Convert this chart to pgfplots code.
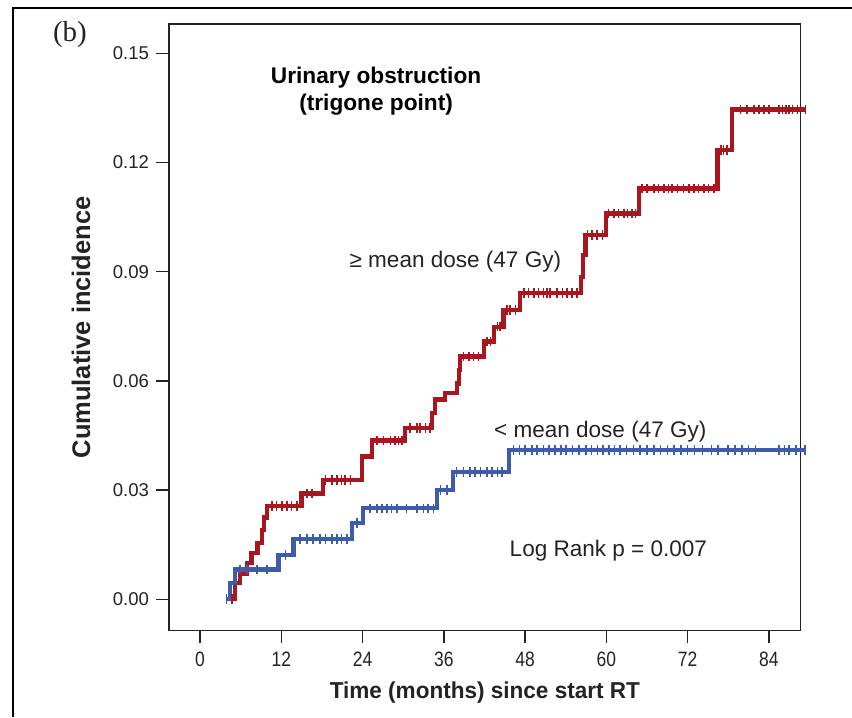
\documentclass[border=0pt]{standalone}
\usepackage{fontspec}
\setmainfont{Liberation Sans}
\newfontfamily\panelfont{Liberation Serif}
\usepackage{graphicx}
\usepackage{pgfplots}
\pgfplotsset{compat=1.18}
\definecolor{kmred}{RGB}{170,22,30}
\definecolor{kmblue}{RGB}{62,92,172}
\definecolor{ink}{RGB}{35,35,35}

\begin{document}
\begin{tikzpicture}
\useasboundingbox (-126.75pt,-64.73pt) rectangle (512.25pt,473.03pt);
% cropped figure frame (top and left edges)
\draw[line width=1.6pt, black] (-117pt,-64.73pt) -- (-117pt,467.03pt) -- (512.25pt,467.03pt);
\begin{axis}[
  at={(0pt,0pt)}, anchor=south west,
  scale only axis, width=473.8pt, height=455pt,
  xmin=-4.58, xmax=88.7, ymin=-0.00863, ymax=0.15805,
  clip=false,
  axis line style={ink, line width=1.1pt},
  tick pos=left, tick align=outside, major tick length=9.5pt,
  tick style={ink, line width=1.1pt},
  xtick={0,12,24,36,48,60,72,84},
  xticklabel={\scalebox{0.84}[1]{\fontsize{15.6}{17}\selectfont\pgfmathprintnumber[int detect]{\tick}}},
  ytick={0,0.03,0.06,0.09,0.12,0.15},
  yticklabels={0.00,0.03,0.06,0.09,0.12,0.15},
  /pgf/number format/assume math mode=true,
  xticklabel style={text=ink, yshift=-3pt},
  yticklabel style={font=\fontsize{13.9}{16}\selectfont, text=ink, xshift=-2pt},
  xlabel={Time (months) since start RT},
  ylabel={Cumulative incidence},
  xlabel style={at={(axis description cs:0.5,-0.1026)}, anchor=center, xscale=0.98,
    font=\bfseries\fontsize{17.25}{20}\selectfont, text=ink},
  ylabel style={at={(axis description cs:-0.1393,0.5)}, anchor=center,
    font=\bfseries\fontsize{19.1}{22}\selectfont, text=ink},
]
% >= mean dose group
\addplot[kmred, line width=3.2pt, const plot] coordinates {
  (4.7,0) (5.2,0.0045) (5.9,0.0070) (6.9,0.0100) (7.6,0.0127) (8.5,0.0155)
  (9.1,0.0190) (9.5,0.0225) (9.85,0.0256) (15.0,0.0291) (18.2,0.0328)
  (23.9,0.0392) (25.4,0.0436) (30.3,0.0471) (34.2,0.0511) (34.7,0.0549)
  (36.2,0.0566) (37.9,0.0593) (38.2,0.0630) (38.4,0.0667) (41.9,0.0708)
  (43.4,0.0749) (44.8,0.0795) (47.3,0.0841) (56.2,0.0886) (56.5,0.0946)
  (56.9,0.1001) (59.9,0.1060) (64.8,0.1129) (76.4,0.1234) (78.6,0.1346)
  (89.4,0.1346)};
\addplot[kmred, only marks, mark=|, mark size=3.6pt, mark options={line width=1.2pt}] coordinates {
  (4.7,0)
  (10.6,0.0256) (11.3,0.0256) (12.1,0.0256) (12.8,0.0256) (13.5,0.0256) (14.3,0.0256)
  (15.8,0.0291) (16.5,0.0291)
  (18.5,0.0328) (19.5,0.0328) (20.2,0.0328) (20.9,0.0328) (21.4,0.0328) (22.2,0.0328)
  (26.1,0.0436) (27.1,0.0436) (28.1,0.0436) (28.8,0.0436) (29.3,0.0436) (29.8,0.0436)
  (31.0,0.0471) (32.0,0.0471) (32.5,0.0471) (33.3,0.0471) (34.0,0.0471)
  (38.9,0.0667) (39.7,0.0667) (40.4,0.0667) (41.1,0.0667)
  (42.4,0.0708) (42.9,0.0708)
  (43.9,0.0749) (44.3,0.0749)
  (45.3,0.0795) (45.8,0.0795) (46.6,0.0795)
  (47.8,0.0841) (48.5,0.0841) (49.3,0.0841) (50.0,0.0841) (50.7,0.0841) (51.2,0.0841)
  (51.7,0.0841) (52.7,0.0841) (53.5,0.0841) (54.2,0.0841) (54.9,0.0841) (55.7,0.0841)
  (57.2,0.1001) (57.9,0.1001) (58.6,0.1001) (59.4,0.1001)
  (60.3,0.1060) (61.1,0.1060) (61.8,0.1060) (62.6,0.1060) (63.1,0.1060) (63.8,0.1060) (64.3,0.1060)
  (65.3,0.1129) (66.0,0.1129) (67.0,0.1129) (67.7,0.1129) (68.5,0.1129) (69.2,0.1129)
  (69.7,0.1129) (70.5,0.1129) (71.4,0.1129) (72.2,0.1129) (72.9,0.1129) (73.6,0.1129)
  (74.4,0.1129) (75.1,0.1129) (75.9,0.1129)
  (76.9,0.1234) (77.3,0.1234) (77.8,0.1234)
  (79.8,0.1346) (80.8,0.1346) (81.8,0.1346) (82.5,0.1346) (83.3,0.1346) (84.0,0.1346)
  (85.5,0.1346) (86.0,0.1346) (86.5,0.1346) (87.0,0.1346) (87.5,0.1346) (88.2,0.1346) (89.4,0.1346)};
% < mean dose group
\addplot[kmblue, line width=3.2pt, const plot] coordinates {
  (3.9,0) (4.4,0.0044) (5.2,0.0082) (11.6,0.0122) (13.8,0.0165) (22.4,0.0209)
  (24.1,0.0250) (35.0,0.0300) (37.4,0.0350) (45.6,0.0410) (89.3,0.0410)};
\addplot[kmblue, only marks, mark=|, mark size=3.6pt, mark options={line width=1.2pt}] coordinates {
  (3.9,0)
  (5.9,0.0082) (6.9,0.0082) (8.4,0.0082) (9.9,0.0082)
  (12.6,0.0122)
  (14.8,0.0165) (15.8,0.0165) (16.7,0.0165) (17.7,0.0165) (18.5,0.0165) (19.5,0.0165)
  (20.2,0.0165) (20.9,0.0165) (21.7,0.0165)
  (23.2,0.0209)
  (25.1,0.0250) (26.1,0.0250) (26.9,0.0250) (27.6,0.0250) (28.3,0.0250) (29.1,0.0250)
  (30.5,0.0250) (32.0,0.0250) (33.0,0.0250) (33.7,0.0250) (34.5,0.0250)
  (35.5,0.0300) (36.5,0.0300)
  (37.9,0.0350) (38.9,0.0350) (39.9,0.0350) (40.6,0.0350) (41.4,0.0350) (42.4,0.0350)
  (43.1,0.0350) (43.9,0.0350) (44.6,0.0350)
  (46.3,0.0410) (47.2,0.0410) (48.0,0.0410) (49.0,0.0410) (49.8,0.0410) (50.7,0.0410)
  (51.5,0.0410) (52.4,0.0410) (53.3,0.0410) (54.0,0.0410) (55.0,0.0410) (56.0,0.0410)
  (57.0,0.0410) (57.8,0.0410) (58.7,0.0410) (59.5,0.0410) (60.4,0.0410) (61.2,0.0410)
  (62.0,0.0410) (63.0,0.0410) (64.0,0.0410) (65.0,0.0410) (66.0,0.0410) (67.0,0.0410)
  (68.0,0.0410) (69.0,0.0410) (70.0,0.0410) (71.0,0.0410) (72.0,0.0410) (73.0,0.0410)
  (74.2,0.0410) (75.5,0.0410) (76.5,0.0410) (78.0,0.0410) (79.0,0.0410) (80.0,0.0410)
  (81.0,0.0410) (82.0,0.0410) (85.5,0.0410) (86.3,0.0410) (87.0,0.0410) (88.0,0.0410)
  (89.3,0.0410)};
% annotations
\node[align=center, font=\bfseries\fontsize{17}{20.25}\selectfont, text=black]
  at (axis cs:26.0,0.1395) {Urinary obstruction\\(trigone point)};
\node[font=\fontsize{16.9}{19}\selectfont, text=ink] at (axis cs:37.7,0.0927) {≥ mean dose (47 Gy)};
\node[font=\fontsize{16.9}{19}\selectfont, text=ink] at (axis cs:59.1,0.0460) {< mean dose (47 Gy)};
\node[font=\fontsize{16.9}{19}\selectfont, text=ink] at (axis cs:60.3,0.0133) {Log Rank p = 0.007};
\end{axis}
\node[font=\panelfont\fontsize{21.75}{24}\selectfont, text=ink] at (-74.25pt,446.8pt) {(b)};
\end{tikzpicture}
\end{document}
